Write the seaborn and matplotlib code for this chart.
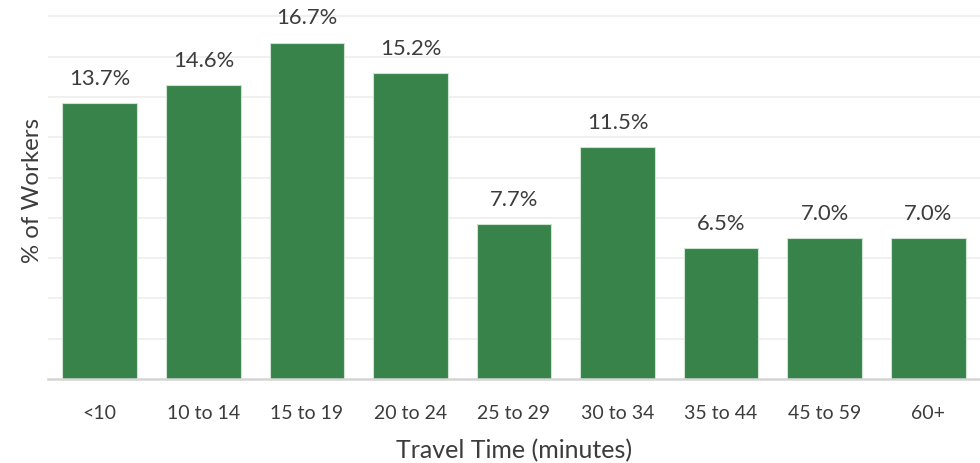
import matplotlib
matplotlib.use("Agg")
import matplotlib.pyplot as plt
import seaborn as sns
import pandas as pd

# Daten
categories = ["<10", "10 to 14", "15 to 19", "20 to 24", "25 to 29",
              "30 to 34", "35 to 44", "45 to 59", "60+"]
shares = [13.7, 14.6, 16.7, 15.2, 7.7, 11.5, 6.5, 7.0, 7.0]

bar_color = "#37834a"
text_color = "#3c3c3c"

sns.set_theme(style="white")
plt.rcParams["font.family"] = ["Lato", "DejaVu Sans"]

df = pd.DataFrame({"time": categories, "share": shares})

fig = plt.figure(figsize=(9.8, 4.64), dpi=100)
ax = fig.add_axes([48 / 980, 84 / 464, 932 / 980, 380 / 464])

sns.barplot(data=df, x="time", y="share", color=bar_color, width=0.72,
            saturation=1, edgecolor="#cfe3d3", linewidth=0.8, ax=ax, zorder=3)

for i, v in enumerate(shares):
    ax.text(i, v + 0.75, f"{v:.1f}%", ha="center", va="bottom",
            fontsize=15.8, color=text_color)

ax.set_xlim(-0.5, len(categories) - 0.5)
ax.set_ylim(0, 18.86)
ax.set_yticks(range(2, 19, 2))
ax.set_yticklabels([])
ax.tick_params(axis="y", length=0)
ax.tick_params(axis="x", length=0, pad=18, labelsize=14, labelcolor=text_color)
ax.grid(axis="y", color="#ededed", linewidth=1.2, zorder=0)

for s in ["top", "right", "left"]:
    ax.spines[s].set_visible(False)
ax.spines["bottom"].set_color("#d4d4d4")
ax.spines["bottom"].set_linewidth(1.8)
ax.spines["bottom"].set_zorder(4)

ax.set_xlabel("Travel Time (minutes)", fontsize=18, color=text_color, labelpad=12)
ax.set_ylabel("% of Workers", fontsize=17.3, color=text_color, labelpad=0)

fig.savefig("out.png", dpi=100)
